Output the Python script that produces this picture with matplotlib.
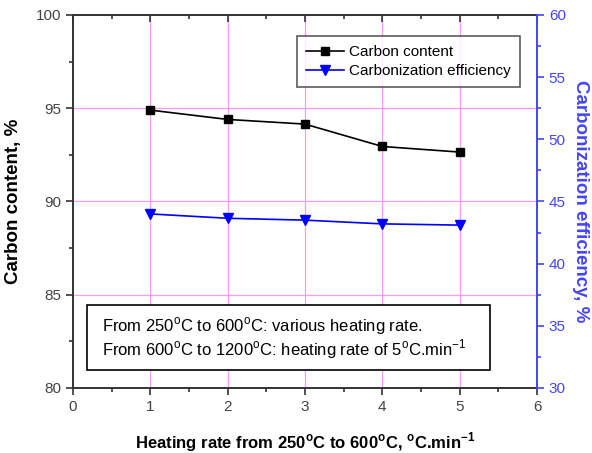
import matplotlib
matplotlib.use("Agg")
import matplotlib.pyplot as plt
from matplotlib.lines import Line2D
from matplotlib.patches import Rectangle
from matplotlib.ticker import MultipleLocator

plt.rcParams["font.family"] = ["Liberation Sans", "DejaVu Sans"]
plt.rcParams["mathtext.fontset"] = "custom"
plt.rcParams["mathtext.rm"] = "Liberation Sans"
plt.rcParams["mathtext.bf"] = "Liberation Sans:bold"

# data
heating_rate = [1, 2, 3, 4, 5]
carbon_content = [94.9, 94.4, 94.15, 92.95, 92.65]
carbonization_eff = [44.0, 43.65, 43.5, 43.2, 43.1]

BLUE = "#0000ff"
AXBLUE = "#4444ff"
GRID = "#ff99ff"
TICKC = "#444444"

fig = plt.figure(figsize=(5.92, 4.53), dpi=100)
ax = fig.add_axes([0.1233, 0.1435, 0.7838, 0.8234])
ax2 = ax.twinx()

ax.plot(heating_rate, carbon_content, color="black", marker="s", markersize=5.5,
        linewidth=1.2, zorder=3)
ax2.plot(heating_rate, carbonization_eff, color=BLUE, marker="v", markersize=7,
         linewidth=1.2, zorder=3)

ax.set_xlim(0, 6)
ax.set_ylim(80, 100)
ax2.set_ylim(30, 60)

ax.xaxis.set_major_locator(MultipleLocator(1))
ax.xaxis.set_minor_locator(MultipleLocator(0.5))
ax.yaxis.set_major_locator(MultipleLocator(5))
ax.yaxis.set_minor_locator(MultipleLocator(2.5))
ax2.yaxis.set_major_locator(MultipleLocator(5))
ax2.yaxis.set_minor_locator(MultipleLocator(2.5))

# magenta grid at interior major ticks
for xv in range(1, 6):
    ax.axvline(xv, color=GRID, linewidth=0.9, zorder=0)
for yv in (85, 90, 95):
    ax.axhline(yv, color=GRID, linewidth=0.9, zorder=0)

ax.tick_params(axis="both", which="major", direction="out", length=5, width=1.2,
               labelsize=11, labelcolor=TICKC, color="#333333")
ax.tick_params(axis="both", which="minor", direction="out", length=3, width=1.2,
               color="#333333")
ax.tick_params(axis="x", which="both", top=True)
ax2.tick_params(axis="y", which="major", direction="out", length=5, width=1.2,
                labelsize=11, labelcolor=AXBLUE, color=AXBLUE)
ax2.tick_params(axis="y", which="minor", direction="out", length=3, width=1.2,
                color=AXBLUE)
# top ticks point inward
for t in ax.xaxis.get_major_ticks() + ax.xaxis.get_minor_ticks():
    t.tick2line.set_marker(matplotlib.lines.TICKDOWN)

for side in ("left", "bottom", "top"):
    ax.spines[side].set_linewidth(1.4)
    ax.spines[side].set_color("#333333")
ax.spines["right"].set_visible(False)
ax2.spines["right"].set_color(AXBLUE)
ax2.spines["right"].set_linewidth(1.4)
for side in ("left", "bottom", "top"):
    ax2.spines[side].set_visible(False)

ax.set_xlabel("Heating rate from 250$^{\\mathbf{o}}$C to 600$^{\\mathbf{o}}$C, $^{\\mathbf{o}}$C.min$^{\\mathbf{-1}}$",
              fontsize=12, fontweight="bold", labelpad=12)
ax.set_ylabel("Carbon content, %", fontsize=13.5, fontweight="bold", labelpad=10)
ax2.set_ylabel("Carbonization efficiency, %", fontsize=13.5, fontweight="bold",
               color=AXBLUE, rotation=270, labelpad=17)

handles = [
    Line2D([], [], color="black", marker="s", markersize=5.5, linewidth=1.2),
    Line2D([], [], color=BLUE, marker="v", markersize=7, linewidth=1.2),
]
leg = ax2.legend(handles, ["Carbon content", "Carbonization efficiency"],
                 loc="upper right", bbox_to_anchor=(0.963, 0.943), fontsize=11,
                 frameon=True, fancybox=False, edgecolor="#333333",
                 handlelength=2.5, handletextpad=0.3, borderpad=0.6,
                 labelspacing=0.3, borderaxespad=0)
leg.get_frame().set_linewidth(1.2)

# note box
ax2.add_patch(Rectangle((0.030, 0.048), 0.869, 0.175, transform=ax2.transAxes,
                        facecolor="white", edgecolor="black", linewidth=1.2,
                        zorder=5))
note = ("From 250$^{\\mathrm{o}}$C to 600$^{\\mathrm{o}}$C: various heating rate.\n"
        "From 600$^{\\mathrm{o}}$C to 1200$^{\\mathrm{o}}$C: heating rate of 5$^{\\mathrm{o}}$C.min$^{\\mathrm{-1}}$")
ax2.text(0.0625, 0.133, note, transform=ax2.transAxes, fontsize=12,
         va="center", ha="left", linespacing=1.05, zorder=6)

fig.savefig("out.png", dpi=100)
